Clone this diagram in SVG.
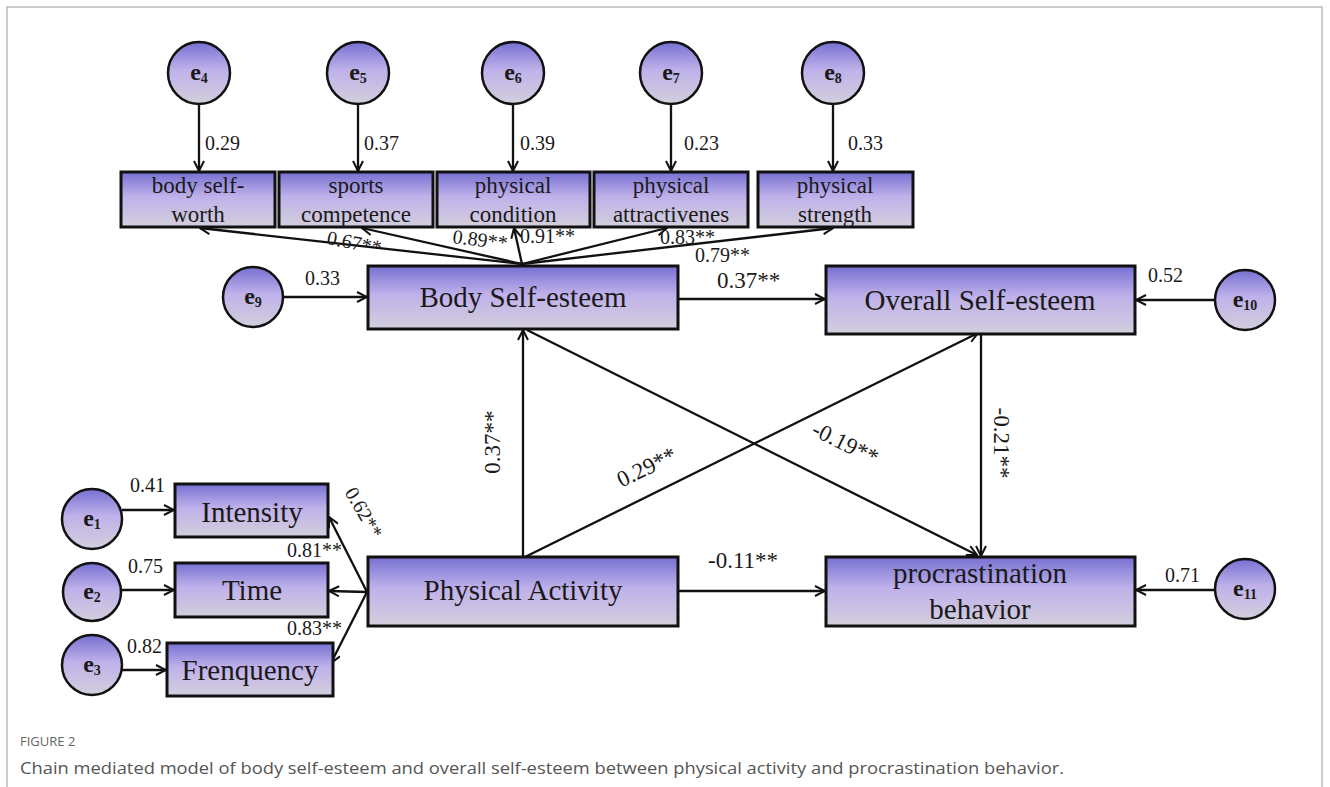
<svg xmlns="http://www.w3.org/2000/svg" width="1330" height="787" viewBox="0 0 1330 787">
<defs>
<linearGradient id="g" x1="0" y1="0" x2="0" y2="1">
<stop offset="0" stop-color="#7670d2"/>
<stop offset="0.45" stop-color="#bfb1ea"/>
<stop offset="1" stop-color="#d3cfdc"/>
</linearGradient>
<marker id="arr" viewBox="0 0 12 12" refX="11" refY="6" markerWidth="12" markerHeight="12" orient="auto" markerUnits="userSpaceOnUse">
<path d="M1,1 L11,6 L1,11" fill="none" stroke="#111" stroke-width="2"/>
</marker>
<style>
.box{fill:url(#g);stroke:#111;stroke-width:3}
.cir{fill:url(#g);stroke:#111;stroke-width:2.5}
.t{font-family:"Liberation Serif",serif;fill:#1a1a1a;text-anchor:middle}
.big{font-size:29px}
.ind{font-size:23px}
.e{font-family:"Liberation Serif",serif;font-weight:bold;font-size:24px;fill:#1a1a1a;text-anchor:middle}
.e tspan{font-size:14px}
.n{font-family:"Liberation Serif",serif;fill:#1a1a1a;font-size:20px}
.m{font-family:"Liberation Serif",serif;fill:#1a1a1a;font-size:23px}
.c line{stroke:#111;stroke-width:2.3;marker-end:url(#arr)}
.cap1{font-family:"Open Sans",sans-serif;font-size:13px;fill:#666}
.cap2{font-family:"Open Sans",sans-serif;font-size:16px;fill:#555}
</style>
</defs>
<rect x="0" y="0" width="1330" height="787" fill="#fff"/>
<rect x="7" y="7" width="1315" height="800" fill="none" stroke="#bbb" stroke-width="1.5"/>

<g id="connectors" class="c">
<line x1="199" y1="104" x2="199" y2="171"/>
<line x1="358" y1="104" x2="358" y2="171"/>
<line x1="513" y1="104" x2="513" y2="171"/>
<line x1="671" y1="104" x2="671" y2="171"/>
<line x1="833" y1="104" x2="833" y2="171"/>
<line x1="522" y1="264" x2="200" y2="228"/>
<line x1="522" y1="264" x2="362" y2="228"/>
<line x1="522" y1="264" x2="514" y2="228"/>
<line x1="522" y1="264" x2="667" y2="228"/>
<line x1="522" y1="264" x2="833" y2="228"/>
<line x1="284" y1="297" x2="367" y2="297"/>
<line x1="678" y1="299" x2="825" y2="299"/>
<line x1="1214" y1="300" x2="1136" y2="300"/>
<line x1="1215" y1="590" x2="1136" y2="590"/>
<line x1="678" y1="591" x2="825" y2="591"/>
<line x1="523" y1="557" x2="523" y2="330"/>
<line x1="525" y1="557" x2="978" y2="333"/>
<line x1="527" y1="330" x2="977" y2="555"/>
<line x1="981" y1="334" x2="981" y2="556"/>
<line x1="122" y1="510" x2="174" y2="510"/>
<line x1="122" y1="590" x2="174" y2="590"/>
<line x1="122" y1="670" x2="166" y2="670"/>
<line x1="367" y1="592" x2="329" y2="517"/>
<line x1="367" y1="592" x2="329" y2="591"/>
<line x1="367" y1="592" x2="331" y2="663"/>
</g>

<g id="e4"><circle class="cir" cx="199" cy="73" r="31"/><text class="e" x="199" y="80">e<tspan dy="3">4</tspan></text></g>
<g id="e5"><circle class="cir" cx="358" cy="73" r="31"/><text class="e" x="358" y="80">e<tspan dy="3">5</tspan></text></g>
<g id="e6"><circle class="cir" cx="513" cy="73" r="31"/><text class="e" x="513" y="80">e<tspan dy="3">6</tspan></text></g>
<g id="e7"><circle class="cir" cx="671" cy="73" r="31"/><text class="e" x="671" y="80">e<tspan dy="3">7</tspan></text></g>
<g id="e8"><circle class="cir" cx="833" cy="73" r="31"/><text class="e" x="833" y="80">e<tspan dy="3">8</tspan></text></g>
<g id="e9"><circle class="cir" cx="253" cy="297" r="30"/><text class="e" x="253" y="304">e<tspan dy="3">9</tspan></text></g>
<g id="e10"><circle class="cir" cx="1245" cy="300" r="30"/><text class="e" x="1245" y="307">e<tspan dy="3">10</tspan></text></g>
<g id="e11"><circle class="cir" cx="1245" cy="589" r="30"/><text class="e" x="1245" y="596">e<tspan dy="3">11</tspan></text></g>
<g id="e1"><circle class="cir" cx="92" cy="519" r="30"/><text class="e" x="92" y="526">e<tspan dy="3">1</tspan></text></g>
<g id="e2"><circle class="cir" cx="92" cy="592" r="29"/><text class="e" x="92" y="599">e<tspan dy="3">2</tspan></text></g>
<g id="e3"><circle class="cir" cx="92" cy="665" r="30"/><text class="e" x="92" y="672">e<tspan dy="3">3</tspan></text></g>

<g id="bodyselfworth"><rect class="box" x="121" y="172" width="154" height="55"/><text class="t ind" x="198" y="193">body self-</text><text class="t ind" x="198" y="222">worth</text></g>
<g id="sportscompetence"><rect class="box" x="279" y="172" width="154" height="55"/><text class="t ind" x="356" y="193">sports</text><text class="t ind" x="356" y="222">competence</text></g>
<g id="physicalcondition"><rect class="box" x="437" y="172" width="153" height="55"/><text class="t ind" x="513" y="193">physical</text><text class="t ind" x="513" y="222">condition</text></g>
<g id="physicalattractiveness"><rect class="box" x="594" y="172" width="154" height="55"/><text class="t ind" x="671" y="193">physical</text><text class="t ind" x="671" y="222">attractivenes</text></g>
<g id="physicalstrength"><rect class="box" x="758" y="172" width="155" height="55"/><text class="t ind" x="835" y="193">physical</text><text class="t ind" x="835" y="222">strength</text></g>

<g id="bodyselfesteem"><rect class="box" x="368" y="266" width="310" height="63"/><text class="t big" x="523" y="307">Body Self-esteem</text></g>
<g id="overallselfesteem"><rect class="box" x="826" y="266" width="309" height="68"/><text class="t big" x="980" y="310">Overall Self-esteem</text></g>
<g id="physicalactivity"><rect class="box" x="368" y="557" width="310" height="69"/><text class="t big" x="523" y="600">Physical Activity</text></g>
<g id="procrastination"><rect class="box" x="826" y="557" width="309" height="69"/><text class="t big" x="980" y="583">procrastination</text><text class="t big" x="980" y="619">behavior</text></g>
<g id="intensity"><rect class="box" x="175" y="484" width="153" height="53"/><text class="t big" x="252" y="522">Intensity</text></g>
<g id="time"><rect class="box" x="175" y="563" width="153" height="54"/><text class="t big" x="252" y="600">Time</text></g>
<g id="frequency"><rect class="box" x="167" y="643" width="166" height="53"/><text class="t big" x="250" y="680">Frenquency</text></g>

<g id="labels">
<text class="n" x="205" y="150">0.29</text>
<text class="n" x="364" y="150">0.37</text>
<text class="n" x="520" y="150">0.39</text>
<text class="n" x="684" y="150">0.23</text>
<text class="n" x="848" y="150">0.33</text>
<text class="n" transform="translate(326,244) rotate(11)">0.67**</text>
<text class="n" transform="translate(452,243) rotate(7)">0.89**</text>
<text class="n" x="520" y="243">0.91**</text>
<text class="n" x="660" y="244">0.83**</text>
<text class="n" x="695" y="262">0.79**</text>
<text class="n" x="305" y="285">0.33</text>
<text class="m" x="717" y="288">0.37**</text>
<text class="n" x="1148" y="282">0.52</text>
<text class="m" text-anchor="middle" transform="translate(500,442) rotate(-90)">0.37**</text>
<text class="m" text-anchor="middle" transform="translate(650,474) rotate(-26)">0.29**</text>
<text class="m" text-anchor="middle" transform="translate(842,450) rotate(26)">-0.19**</text>
<text class="m" text-anchor="middle" transform="translate(994,443) rotate(90)">-0.21**</text>
<text class="m" x="708" y="568">-0.11**</text>
<text class="n" x="1165" y="582">0.71</text>
<text class="n" x="130" y="492">0.41</text>
<text class="n" x="128" y="573">0.75</text>
<text class="n" x="127" y="653">0.82</text>
<text class="n" x="287" y="557">0.81**</text>
<text class="n" x="287" y="635">0.83**</text>
<text class="n" text-anchor="middle" transform="translate(358,516) rotate(60)">0.62**</text>
</g>

<g id="caption">
<text class="cap1" x="20" y="746">FIGURE 2</text>
<text class="cap2" x="20" y="774" textLength="1044" lengthAdjust="spacingAndGlyphs">Chain mediated model of body self-esteem and overall self-esteem between physical activity and procrastination behavior.</text>
</g>
</svg>
